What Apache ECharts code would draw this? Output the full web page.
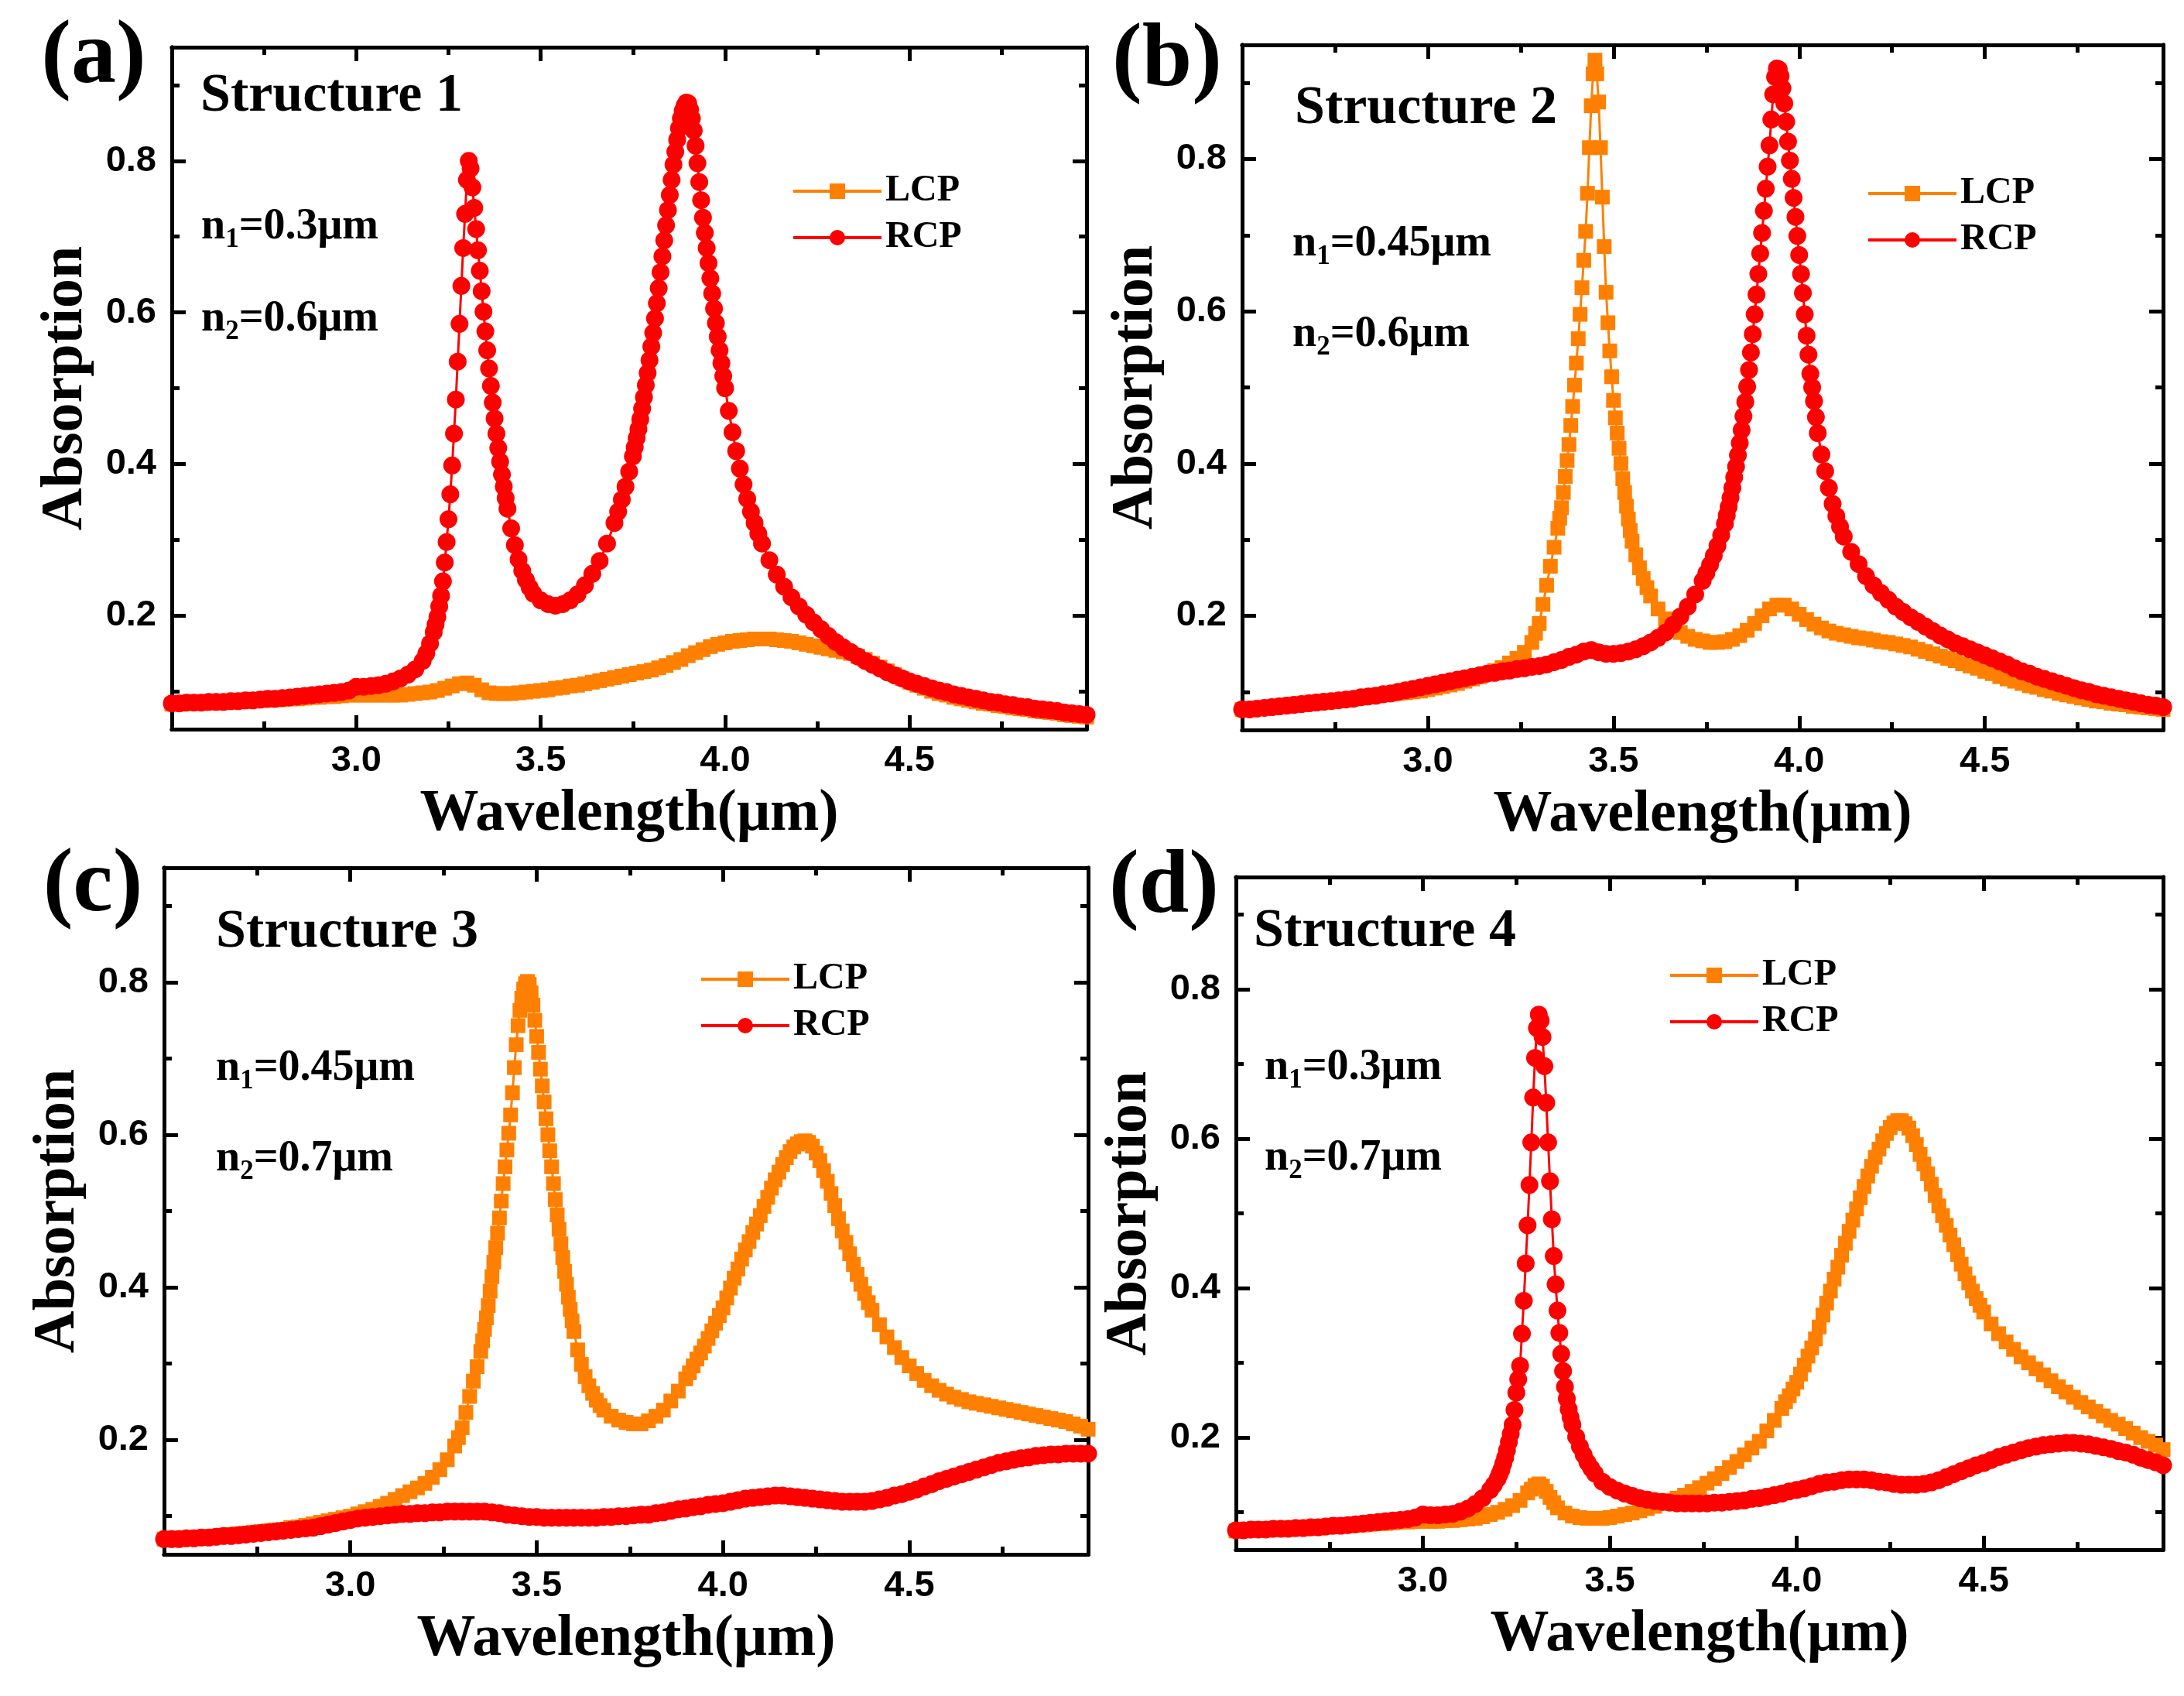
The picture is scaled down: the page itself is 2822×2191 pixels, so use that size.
<!DOCTYPE html>
<html>
<head>
<meta charset="utf-8">
<script src="https://cdn.jsdelivr.net/npm/echarts@6/dist/echarts.min.js"></script>
<style>
html, body { margin: 0; padding: 0; background: #fff; }
#chart { width: 2822px; height: 2191px; }
</style>
</head>
<body>
<div id="chart"></div>
<script>
// absorption spectra, [wavelength (um), absorption]
const lcpA = [[2.50,.083],[2.52,.083],[2.54,.084],[2.56,.084],[2.58,.084],[2.60,.085],[2.62,.085],[2.64,.085],[2.66,.086],[2.68,.086],[2.70,.087],[2.72,.087],[2.74,.088],[2.76,.088],[2.78,.089],[2.80,.089],[2.82,.090],[2.84,.090],[2.86,.091],[2.88,.092],[2.90,.092],[2.92,.093],[2.94,.093],[2.96,.094],[2.98,.095],[3.00,.095],[3.02,.095],[3.04,.095],[3.06,.095],[3.08,.095],[3.10,.095],[3.12,.095],[3.14,.096],[3.16,.097],[3.18,.098],[3.20,.099],[3.22,.101],[3.24,.104],[3.26,.107],[3.28,.110],[3.30,.111],[3.32,.108],[3.34,.102],[3.36,.098],[3.38,.097],[3.40,.097],[3.42,.097],[3.44,.098],[3.46,.099],[3.48,.100],[3.50,.101],[3.52,.102],[3.54,.104],[3.56,.105],[3.58,.107],[3.60,.108],[3.62,.110],[3.64,.112],[3.66,.114],[3.68,.116],[3.70,.118],[3.72,.120],[3.74,.122],[3.76,.124],[3.78,.126],[3.80,.128],[3.82,.131],[3.84,.134],[3.86,.138],[3.88,.142],[3.90,.147],[3.92,.151],[3.94,.155],[3.96,.159],[3.98,.162],[4.00,.164],[4.02,.166],[4.04,.167],[4.06,.168],[4.08,.169],[4.10,.169],[4.12,.169],[4.14,.168],[4.16,.167],[4.18,.166],[4.20,.164],[4.22,.162],[4.24,.160],[4.26,.158],[4.28,.156],[4.30,.154],[4.32,.152],[4.34,.150],[4.36,.146],[4.38,.142],[4.40,.137],[4.42,.132],[4.44,.127],[4.46,.122],[4.48,.117],[4.50,.112],[4.52,.108],[4.54,.104],[4.56,.100],[4.58,.097],[4.60,.095],[4.62,.092],[4.64,.090],[4.66,.088],[4.68,.086],[4.70,.084],[4.72,.083],[4.74,.081],[4.76,.080],[4.78,.078],[4.80,.077],[4.82,.076],[4.84,.074],[4.86,.073],[4.88,.072],[4.90,.071],[4.92,.069],[4.94,.068],[4.96,.067],[4.98,.066]];
const rcpA = [[2.50,.084],[2.52,.084],[2.54,.085],[2.56,.085],[2.58,.085],[2.60,.086],[2.62,.086],[2.64,.086],[2.66,.087],[2.68,.087],[2.70,.088],[2.72,.088],[2.74,.089],[2.76,.090],[2.78,.090],[2.80,.091],[2.82,.092],[2.84,.093],[2.86,.094],[2.88,.095],[2.90,.096],[2.92,.097],[2.94,.098],[2.96,.099],[2.98,.101],[3.00,.106],[3.02,.106],[3.04,.107],[3.06,.108],[3.08,.110],[3.10,.113],[3.12,.117],[3.14,.122],[3.16,.129],[3.18,.140],[3.19,.150],[3.20,.163],[3.21,.178],[3.215,.188],[3.22,.198],[3.225,.212],[3.23,.226],[3.235,.245],[3.24,.270],[3.245,.297],[3.25,.327],[3.255,.360],[3.26,.398],[3.265,.440],[3.27,.485],[3.275,.535],[3.28,.585],[3.285,.635],[3.29,.685],[3.295,.730],[3.30,.775],[3.305,.800],[3.31,.790],[3.315,.765],[3.32,.738],[3.325,.710],[3.33,.682],[3.335,.655],[3.34,.628],[3.345,.601],[3.35,.575],[3.355,.550],[3.36,.526],[3.365,.503],[3.37,.481],[3.375,.460],[3.38,.440],[3.385,.421],[3.39,.403],[3.395,.386],[3.40,.370],[3.405,.355],[3.41,.341],[3.42,.315],[3.43,.293],[3.44,.274],[3.45,.259],[3.46,.247],[3.47,.237],[3.48,.229],[3.50,.220],[3.52,.215],[3.54,.213],[3.56,.215],[3.58,.220],[3.60,.228],[3.62,.240],[3.64,.255],[3.66,.272],[3.68,.295],[3.70,.322],[3.71,.337],[3.72,.353],[3.73,.370],[3.74,.390],[3.75,.410],[3.755,.422],[3.76,.434],[3.765,.446],[3.77,.459],[3.775,.473],[3.78,.488],[3.785,.504],[3.79,.520],[3.795,.537],[3.80,.555],[3.805,.573],[3.81,.592],[3.815,.612],[3.82,.632],[3.825,.653],[3.83,.674],[3.835,.695],[3.84,.715],[3.845,.735],[3.85,.755],[3.855,.775],[3.86,.795],[3.865,.812],[3.87,.828],[3.875,.843],[3.88,.856],[3.885,.866],[3.89,.873],[3.895,.877],[3.90,.876],[3.905,.868],[3.91,.856],[3.915,.840],[3.92,.820],[3.925,.797],[3.93,.772],[3.935,.748],[3.94,.725],[3.945,.705],[3.95,.685],[3.955,.665],[3.96,.645],[3.965,.625],[3.97,.605],[3.975,.586],[3.98,.568],[3.985,.550],[3.99,.533],[3.995,.516],[4.00,.500],[4.01,.470],[4.02,.442],[4.03,.417],[4.04,.394],[4.05,.373],[4.06,.354],[4.07,.337],[4.08,.322],[4.09,.308],[4.10,.295],[4.12,.273],[4.14,.254],[4.16,.238],[4.18,.224],[4.20,.212],[4.22,.201],[4.24,.191],[4.26,.182],[4.28,.173],[4.30,.165],[4.32,.158],[4.34,.152],[4.36,.146],[4.38,.140],[4.40,.135],[4.42,.130],[4.44,.125],[4.46,.121],[4.48,.117],[4.50,.113],[4.52,.110],[4.54,.107],[4.56,.104],[4.58,.101],[4.60,.099],[4.62,.096],[4.64,.094],[4.66,.092],[4.68,.090],[4.70,.088],[4.72,.086],[4.74,.085],[4.76,.083],[4.78,.082],[4.80,.080],[4.82,.079],[4.84,.077],[4.86,.076],[4.88,.075],[4.90,.074],[4.92,.072],[4.94,.071],[4.96,.070],[4.98,.069]];

const lcpB = [[2.50,.077],[2.52,.078],[2.54,.078],[2.56,.079],[2.58,.080],[2.60,.081],[2.62,.082],[2.64,.083],[2.66,.084],[2.68,.085],[2.70,.086],[2.72,.087],[2.74,.088],[2.76,.089],[2.78,.090],[2.80,.091],[2.82,.092],[2.84,.094],[2.86,.095],[2.88,.096],[2.90,.097],[2.92,.098],[2.94,.099],[2.96,.100],[2.98,.101],[3.00,.103],[3.02,.105],[3.04,.107],[3.06,.109],[3.08,.111],[3.10,.114],[3.12,.117],[3.14,.120],[3.16,.124],[3.18,.128],[3.20,.132],[3.22,.138],[3.24,.144],[3.26,.152],[3.28,.165],[3.29,.177],[3.30,.190],[3.31,.215],[3.32,.240],[3.33,.265],[3.34,.290],[3.35,.315],[3.355,.328],[3.36,.342],[3.365,.362],[3.37,.383],[3.375,.404],[3.38,.425],[3.385,.450],[3.39,.475],[3.395,.503],[3.40,.532],[3.405,.564],[3.41,.596],[3.415,.631],[3.42,.667],[3.425,.705],[3.43,.755],[3.435,.815],[3.44,.870],[3.445,.912],[3.45,.930],[3.455,.912],[3.46,.875],[3.465,.815],[3.47,.750],[3.475,.685],[3.48,.625],[3.485,.585],[3.49,.548],[3.495,.514],[3.50,.483],[3.505,.460],[3.51,.440],[3.515,.420],[3.52,.400],[3.525,.380],[3.53,.362],[3.535,.344],[3.54,.327],[3.545,.312],[3.55,.298],[3.56,.280],[3.57,.263],[3.58,.249],[3.59,.237],[3.60,.226],[3.62,.209],[3.64,.196],[3.66,.186],[3.68,.178],[3.70,.173],[3.72,.169],[3.74,.167],[3.76,.165],[3.78,.165],[3.80,.166],[3.82,.169],[3.84,.174],[3.86,.181],[3.88,.190],[3.90,.200],[3.92,.209],[3.94,.214],[3.96,.214],[3.98,.209],[4.00,.202],[4.02,.195],[4.04,.189],[4.06,.184],[4.08,.180],[4.10,.177],[4.12,.175],[4.14,.173],[4.16,.171],[4.18,.170],[4.20,.168],[4.22,.166],[4.24,.165],[4.26,.163],[4.28,.161],[4.30,.159],[4.32,.156],[4.34,.153],[4.36,.150],[4.38,.147],[4.40,.144],[4.42,.141],[4.44,.137],[4.46,.134],[4.48,.131],[4.50,.127],[4.52,.124],[4.54,.120],[4.56,.117],[4.58,.114],[4.60,.111],[4.62,.108],[4.64,.106],[4.66,.103],[4.68,.101],[4.70,.098],[4.72,.096],[4.74,.094],[4.76,.092],[4.78,.090],[4.80,.088],[4.82,.087],[4.84,.085],[4.86,.084],[4.88,.083],[4.90,.081],[4.92,.080],[4.94,.079],[4.96,.078],[4.98,.077]];
const rcpB = [[2.50,.077],[2.52,.077],[2.54,.078],[2.56,.079],[2.58,.080],[2.60,.081],[2.62,.082],[2.64,.083],[2.66,.084],[2.68,.085],[2.70,.086],[2.72,.087],[2.74,.088],[2.76,.089],[2.78,.090],[2.80,.091],[2.82,.093],[2.84,.094],[2.86,.095],[2.88,.097],[2.90,.098],[2.92,.100],[2.94,.102],[2.96,.104],[2.98,.106],[3.00,.108],[3.02,.110],[3.04,.112],[3.06,.114],[3.08,.116],[3.10,.118],[3.12,.120],[3.14,.122],[3.16,.124],[3.18,.125],[3.20,.127],[3.22,.128],[3.24,.130],[3.26,.131],[3.28,.133],[3.30,.134],[3.32,.136],[3.34,.139],[3.36,.142],[3.38,.146],[3.40,.149],[3.42,.153],[3.44,.155],[3.46,.152],[3.48,.150],[3.50,.150],[3.52,.151],[3.54,.153],[3.56,.156],[3.58,.160],[3.60,.165],[3.62,.171],[3.64,.178],[3.66,.188],[3.68,.199],[3.70,.212],[3.72,.228],[3.74,.246],[3.75,.256],[3.76,.267],[3.77,.279],[3.78,.292],[3.79,.306],[3.80,.321],[3.805,.332],[3.81,.343],[3.815,.355],[3.82,.368],[3.825,.382],[3.83,.396],[3.835,.411],[3.84,.427],[3.845,.444],[3.85,.462],[3.855,.481],[3.86,.501],[3.865,.523],[3.87,.546],[3.875,.570],[3.88,.596],[3.885,.622],[3.89,.649],[3.895,.676],[3.90,.703],[3.905,.732],[3.91,.761],[3.915,.790],[3.92,.818],[3.925,.852],[3.93,.885],[3.935,.908],[3.94,.919],[3.945,.918],[3.95,.909],[3.955,.893],[3.96,.873],[3.965,.849],[3.97,.823],[3.975,.798],[3.98,.774],[3.985,.749],[3.99,.724],[3.995,.699],[4.00,.674],[4.005,.649],[4.01,.624],[4.015,.596],[4.02,.568],[4.025,.543],[4.03,.518],[4.035,.500],[4.04,.482],[4.045,.461],[4.05,.440],[4.06,.412],[4.07,.390],[4.08,.368],[4.09,.347],[4.10,.331],[4.11,.317],[4.12,.304],[4.14,.284],[4.16,.268],[4.18,.252],[4.20,.240],[4.22,.230],[4.24,.221],[4.26,.212],[4.28,.205],[4.30,.198],[4.32,.192],[4.34,.186],[4.36,.180],[4.38,.174],[4.40,.169],[4.42,.164],[4.44,.160],[4.46,.156],[4.48,.152],[4.50,.148],[4.52,.144],[4.54,.140],[4.56,.136],[4.58,.131],[4.60,.127],[4.62,.124],[4.64,.120],[4.66,.117],[4.68,.114],[4.70,.111],[4.72,.108],[4.74,.105],[4.76,.102],[4.78,.100],[4.80,.097],[4.82,.095],[4.84,.093],[4.86,.091],[4.88,.089],[4.90,.087],[4.92,.085],[4.94,.083],[4.96,.082],[4.98,.080]];

const lcpC = [[2.50,.070],[2.52,.070],[2.54,.071],[2.56,.071],[2.58,.072],[2.60,.072],[2.62,.073],[2.64,.074],[2.66,.075],[2.68,.076],[2.70,.077],[2.72,.078],[2.74,.079],[2.76,.080],[2.78,.081],[2.80,.082],[2.82,.083],[2.84,.085],[2.86,.086],[2.88,.088],[2.90,.090],[2.92,.092],[2.94,.094],[2.96,.096],[2.98,.098],[3.00,.100],[3.02,.103],[3.04,.106],[3.06,.109],[3.08,.113],[3.10,.117],[3.12,.122],[3.14,.127],[3.16,.132],[3.18,.137],[3.20,.143],[3.22,.151],[3.24,.161],[3.26,.174],[3.28,.192],[3.29,.203],[3.30,.216],[3.31,.236],[3.32,.257],[3.33,.277],[3.34,.296],[3.35,.316],[3.355,.330],[3.36,.345],[3.365,.360],[3.37,.376],[3.375,.395],[3.38,.414],[3.385,.433],[3.39,.452],[3.395,.471],[3.40,.491],[3.405,.513],[3.41,.536],[3.415,.558],[3.42,.580],[3.425,.602],[3.43,.626],[3.435,.655],[3.44,.688],[3.445,.718],[3.45,.743],[3.455,.763],[3.46,.779],[3.465,.791],[3.47,.798],[3.475,.801],[3.48,.797],[3.485,.786],[3.49,.770],[3.495,.750],[3.50,.729],[3.505,.708],[3.51,.686],[3.515,.664],[3.52,.643],[3.525,.621],[3.53,.600],[3.535,.579],[3.54,.558],[3.545,.536],[3.55,.515],[3.555,.495],[3.56,.476],[3.565,.457],[3.57,.439],[3.575,.421],[3.58,.404],[3.585,.387],[3.59,.371],[3.595,.356],[3.60,.342],[3.61,.318],[3.62,.299],[3.63,.283],[3.64,.271],[3.65,.261],[3.66,.252],[3.67,.245],[3.68,.239],[3.70,.231],[3.72,.226],[3.74,.223],[3.76,.221],[3.78,.221],[3.80,.225],[3.82,.231],[3.84,.239],[3.86,.251],[3.88,.264],[3.90,.280],[3.91,.288],[3.92,.297],[3.93,.306],[3.94,.314],[3.95,.323],[3.96,.333],[3.97,.343],[3.98,.353],[3.99,.363],[4.00,.373],[4.01,.386],[4.02,.399],[4.03,.412],[4.04,.424],[4.05,.437],[4.06,.449],[4.07,.460],[4.08,.472],[4.09,.483],[4.10,.494],[4.11,.506],[4.12,.518],[4.13,.530],[4.14,.541],[4.15,.551],[4.16,.561],[4.17,.570],[4.18,.578],[4.19,.584],[4.20,.588],[4.21,.591],[4.22,.592],[4.23,.590],[4.24,.585],[4.25,.576],[4.26,.566],[4.27,.553],[4.28,.539],[4.29,.523],[4.30,.507],[4.31,.490],[4.32,.474],[4.33,.459],[4.34,.444],[4.35,.430],[4.36,.417],[4.37,.404],[4.38,.392],[4.39,.380],[4.40,.370],[4.42,.351],[4.44,.335],[4.46,.321],[4.48,.308],[4.50,.297],[4.52,.287],[4.54,.278],[4.56,.271],[4.58,.265],[4.60,.260],[4.62,.256],[4.64,.253],[4.66,.250],[4.68,.248],[4.70,.246],[4.72,.244],[4.74,.242],[4.76,.240],[4.78,.238],[4.80,.236],[4.82,.234],[4.84,.232],[4.86,.230],[4.88,.228],[4.90,.226],[4.92,.224],[4.94,.221],[4.96,.218],[4.98,.214]];
const rcpC = [[2.50,.070],[2.52,.070],[2.54,.070],[2.56,.071],[2.58,.071],[2.60,.072],[2.62,.072],[2.64,.073],[2.66,.074],[2.68,.074],[2.70,.075],[2.72,.076],[2.74,.077],[2.76,.078],[2.78,.079],[2.80,.080],[2.82,.081],[2.84,.082],[2.86,.083],[2.88,.084],[2.90,.085],[2.92,.087],[2.94,.089],[2.96,.091],[2.98,.093],[3.00,.095],[3.02,.097],[3.04,.098],[3.06,.099],[3.08,.100],[3.10,.101],[3.12,.102],[3.14,.103],[3.16,.103],[3.18,.104],[3.20,.104],[3.22,.105],[3.24,.105],[3.26,.106],[3.28,.106],[3.30,.106],[3.32,.106],[3.34,.106],[3.36,.106],[3.38,.105],[3.40,.104],[3.42,.102],[3.44,.101],[3.46,.100],[3.48,.099],[3.50,.099],[3.52,.098],[3.54,.098],[3.56,.098],[3.58,.098],[3.60,.098],[3.62,.098],[3.64,.098],[3.66,.098],[3.68,.099],[3.70,.099],[3.72,.100],[3.74,.100],[3.76,.101],[3.78,.102],[3.80,.102],[3.82,.104],[3.84,.105],[3.86,.107],[3.88,.109],[3.90,.110],[3.92,.112],[3.94,.113],[3.96,.115],[3.98,.116],[4.00,.117],[4.02,.119],[4.04,.121],[4.06,.123],[4.08,.124],[4.10,.125],[4.12,.126],[4.14,.127],[4.16,.127],[4.18,.126],[4.20,.125],[4.22,.124],[4.24,.123],[4.26,.122],[4.28,.121],[4.30,.120],[4.32,.119],[4.34,.119],[4.36,.119],[4.38,.119],[4.40,.120],[4.42,.122],[4.44,.124],[4.46,.127],[4.48,.129],[4.50,.132],[4.52,.135],[4.54,.139],[4.56,.142],[4.58,.146],[4.60,.149],[4.62,.152],[4.64,.155],[4.66,.158],[4.68,.161],[4.70,.164],[4.72,.167],[4.74,.170],[4.76,.172],[4.78,.174],[4.80,.176],[4.82,.177],[4.84,.179],[4.86,.180],[4.88,.181],[4.90,.181],[4.92,.182],[4.94,.182],[4.96,.182],[4.98,.182]];

const lcpD = [[2.50,.075],[2.52,.075],[2.54,.076],[2.56,.076],[2.58,.076],[2.60,.077],[2.62,.077],[2.64,.077],[2.66,.078],[2.68,.078],[2.70,.079],[2.72,.079],[2.74,.080],[2.76,.081],[2.78,.081],[2.80,.082],[2.82,.083],[2.84,.083],[2.86,.084],[2.88,.085],[2.90,.085],[2.92,.086],[2.94,.087],[2.96,.087],[2.98,.088],[3.00,.088],[3.02,.088],[3.04,.088],[3.06,.089],[3.08,.089],[3.10,.090],[3.12,.091],[3.14,.092],[3.16,.094],[3.18,.097],[3.20,.100],[3.22,.104],[3.24,.109],[3.26,.116],[3.28,.126],[3.29,.131],[3.30,.136],[3.31,.138],[3.32,.135],[3.33,.128],[3.34,.120],[3.35,.113],[3.36,.106],[3.38,.099],[3.40,.095],[3.42,.093],[3.44,.092],[3.46,.092],[3.48,.092],[3.50,.093],[3.52,.095],[3.54,.097],[3.56,.099],[3.58,.102],[3.60,.105],[3.62,.108],[3.64,.112],[3.66,.116],[3.68,.119],[3.70,.123],[3.72,.128],[3.74,.133],[3.76,.139],[3.78,.145],[3.80,.152],[3.82,.160],[3.84,.168],[3.86,.177],[3.88,.186],[3.90,.195],[3.92,.209],[3.94,.223],[3.96,.239],[3.97,.248],[3.98,.256],[3.99,.265],[4.00,.274],[4.01,.285],[4.02,.297],[4.03,.309],[4.04,.320],[4.05,.332],[4.06,.348],[4.07,.364],[4.08,.380],[4.09,.396],[4.10,.412],[4.11,.428],[4.12,.444],[4.13,.460],[4.14,.476],[4.15,.491],[4.16,.506],[4.17,.521],[4.18,.536],[4.19,.550],[4.20,.563],[4.21,.575],[4.22,.586],[4.23,.597],[4.24,.607],[4.25,.615],[4.26,.621],[4.27,.624],[4.28,.624],[4.29,.620],[4.30,.614],[4.31,.604],[4.32,.592],[4.33,.579],[4.34,.566],[4.35,.553],[4.36,.539],[4.37,.524],[4.38,.510],[4.39,.497],[4.40,.484],[4.41,.471],[4.42,.458],[4.43,.445],[4.44,.432],[4.45,.419],[4.46,.407],[4.47,.396],[4.48,.386],[4.49,.377],[4.50,.368],[4.52,.352],[4.54,.339],[4.56,.328],[4.58,.318],[4.60,.308],[4.62,.300],[4.64,.292],[4.66,.284],[4.68,.276],[4.70,.268],[4.72,.261],[4.74,.254],[4.76,.247],[4.78,.241],[4.80,.235],[4.82,.229],[4.84,.223],[4.86,.218],[4.88,.212],[4.90,.206],[4.92,.200],[4.94,.195],[4.96,.190],[4.98,.184]];
const rcpD = [[2.50,.076],[2.52,.076],[2.54,.077],[2.56,.077],[2.58,.077],[2.60,.078],[2.62,.078],[2.64,.078],[2.66,.079],[2.68,.079],[2.70,.080],[2.72,.080],[2.74,.081],[2.76,.082],[2.78,.082],[2.80,.083],[2.82,.084],[2.84,.085],[2.86,.086],[2.88,.087],[2.90,.088],[2.92,.089],[2.94,.090],[2.96,.091],[2.98,.093],[3.00,.097],[3.02,.096],[3.04,.096],[3.06,.097],[3.08,.098],[3.10,.101],[3.12,.105],[3.14,.111],[3.16,.119],[3.18,.130],[3.19,.137],[3.20,.145],[3.205,.151],[3.21,.157],[3.215,.165],[3.22,.173],[3.225,.183],[3.23,.194],[3.235,.205],[3.24,.217],[3.245,.237],[3.25,.260],[3.255,.278],[3.26,.296],[3.265,.339],[3.27,.383],[3.275,.433],[3.28,.484],[3.285,.538],[3.29,.595],[3.295,.655],[3.30,.708],[3.305,.748],[3.31,.766],[3.315,.758],[3.32,.736],[3.325,.697],[3.33,.648],[3.335,.595],[3.34,.543],[3.345,.492],[3.35,.443],[3.355,.405],[3.36,.370],[3.365,.340],[3.37,.312],[3.375,.289],[3.38,.268],[3.385,.252],[3.39,.238],[3.395,.227],[3.40,.217],[3.41,.201],[3.42,.188],[3.43,.177],[3.44,.167],[3.45,.159],[3.46,.152],[3.48,.141],[3.50,.134],[3.52,.129],[3.54,.125],[3.56,.122],[3.58,.119],[3.60,.117],[3.62,.115],[3.64,.114],[3.66,.113],[3.68,.112],[3.70,.112],[3.72,.112],[3.74,.112],[3.76,.112],[3.78,.113],[3.80,.113],[3.82,.114],[3.84,.115],[3.86,.116],[3.88,.118],[3.90,.119],[3.92,.121],[3.94,.123],[3.96,.125],[3.98,.128],[4.00,.130],[4.02,.132],[4.04,.135],[4.06,.138],[4.08,.140],[4.10,.141],[4.12,.143],[4.14,.144],[4.16,.144],[4.18,.144],[4.20,.143],[4.22,.141],[4.24,.140],[4.26,.138],[4.28,.137],[4.30,.137],[4.32,.137],[4.34,.138],[4.36,.140],[4.38,.143],[4.40,.147],[4.42,.151],[4.44,.155],[4.46,.159],[4.48,.163],[4.50,.166],[4.52,.170],[4.54,.174],[4.56,.177],[4.58,.180],[4.60,.183],[4.62,.186],[4.64,.188],[4.66,.190],[4.68,.191],[4.70,.192],[4.72,.193],[4.74,.193],[4.76,.192],[4.78,.191],[4.80,.189],[4.82,.187],[4.84,.185],[4.86,.182],[4.88,.180],[4.90,.177],[4.92,.173],[4.94,.170],[4.96,.167],[4.98,.163]];

// ticks
const majorX = [3.0, 3.5, 4.0, 4.5];
const minorX = [2.75, 3.25, 3.75, 4.25, 4.75];
const majorY = [0.2, 0.4, 0.6, 0.8];
const minorY = [0.1, 0.3, 0.5, 0.7, 0.9];

// panel texts
const tags = ['(a)', '(b)', '(c)', '(d)'];
const structures = ['Structure 1', 'Structure 2', 'Structure 3', 'Structure 4'];
const n1Values = ['0.3', '0.45', '0.45', '0.3'];
const n2Values = ['0.6', '0.6', '0.7', '0.7'];

const SERIF = '"Liberation Serif", "Times New Roman", serif';
const SANS = '"Liberation Sans", Arial, sans-serif';
const ORANGE = '#FF8000';
const RED = '#FF0000';

const panels = [
    { grid: { left: 222, top: 61, width: 1182, height: 881 }, lcp: lcpA, rcp: rcpA, tag: [121, 76], title: [259, 125], nText: [260, 261, 380], legend: [1023, 223] },
    { grid: { left: 1605, top: 58, width: 1190, height: 885 }, lcp: lcpB, rcp: rcpB, tag: [1508, 80], title: [1673, 141], nText: [1670, 283, 400], legend: [2412, 226] },
    { grid: { left: 212, top: 1121, width: 1194, height: 887 }, lcp: lcpC, rcp: rcpC, tag: [120, 1146], title: [279, 1205], nText: [279, 1348, 1465], legend: [904, 1241] },
    { grid: { left: 1597, top: 1133, width: 1198, height: 869 }, lcp: lcpD, rcp: rcpD, tag: [1504, 1148], title: [1620, 1204], nText: [1634, 1347, 1464], legend: [2156, 1236] }
];

const axisLine = { show: true, onZero: false, lineStyle: { color: '#000', width: 5 } };
const tick = (vals, len) => ({ show: true, inside: true, length: len, customValues: vals, lineStyle: { color: '#000', width: 5 } });
const tickLabel = (vals) => ({
    show: true, customValues: vals, margin: 18,
    formatter: v => Number(v).toFixed(1),
    color: '#000', fontFamily: SANS, fontWeight: 'bold', fontSize: 47
});
const axisName = { color: '#000', fontFamily: SERIF, fontWeight: 'bold', fontSize: 76 };

const xAxis = [];
const yAxis = [];
panels.forEach((p, gi) => {
    const bx = { type: 'value', gridIndex: gi, min: 2.5, max: 4.98, axisLine, splitLine: { show: false }, axisLabel: { show: false } };
    xAxis.push(
        { ...bx, position: 'bottom', axisTick: tick(majorX, 18), axisLabel: tickLabel(majorX),
          name: 'Wavelength(μm)', nameLocation: 'middle', nameGap: 72, nameTextStyle: axisName },
        { ...bx, position: 'bottom', axisTick: tick(minorX, 10) },
        { ...bx, position: 'top', axisTick: tick(majorX, 18) },
        { ...bx, position: 'top', axisTick: tick(minorX, 10) }
    );
    const by = { type: 'value', gridIndex: gi, min: 0.05, max: 0.95, axisLine, splitLine: { show: false }, axisLabel: { show: false } };
    yAxis.push(
        { ...by, position: 'left', axisTick: tick(majorY, 18), axisLabel: { ...tickLabel(majorY), margin: 20 },
          name: 'Absorption', nameLocation: 'middle', nameGap: 99, nameTextStyle: axisName },
        { ...by, position: 'left', axisTick: tick(minorY, 10) },
        { ...by, position: 'right', axisTick: tick(majorY, 18) },
        { ...by, position: 'right', axisTick: tick(minorY, 10) }
    );
});

const series = [];
panels.forEach((p, gi) => {
    const common = { type: 'line', xAxisIndex: gi * 4, yAxisIndex: gi * 4, showSymbol: true, showAllSymbol: true, clip: true, emphasis: { disabled: true } };
    series.push(
        { ...common, name: 'LCP', data: p.lcp, symbol: 'rect', symbolSize: 19, itemStyle: { color: ORANGE }, lineStyle: { color: ORANGE, width: 3 } },
        { ...common, name: 'RCP', data: p.rcp, symbol: 'circle', symbolSize: 23, itemStyle: { color: RED }, lineStyle: { color: RED, width: 3 } }
    );
});

const legend = panels.map(p => ({
    data: ['LCP', 'RCP'], orient: 'vertical', left: p.legend[0], top: p.legend[1], padding: 0,
    itemWidth: 114, itemHeight: 25, itemGap: 12,
    lineStyle: { width: 4 },
    textStyle: { color: '#000', fontFamily: SERIF, fontWeight: 'bold', fontSize: 48 }
}));

const graphic = [];
panels.forEach((p, gi) => {
    graphic.push({
        type: 'text', x: p.tag[0], y: p.tag[1],
        style: { text: tags[gi], fill: '#000', fontFamily: SERIF, fontWeight: 'bold', fontSize: 116, align: 'center', verticalAlign: 'middle', textAlign: 'center', textVerticalAlign: 'middle' }
    });
    graphic.push({
        type: 'text', x: p.title[0], y: p.title[1],
        style: { text: structures[gi], fill: '#000', fontFamily: SERIF, fontWeight: 'bold', fontSize: 70, align: 'left', verticalAlign: 'middle', textAlign: 'left', textVerticalAlign: 'middle' }
    });
    [[1, n1Values[gi]], [2, n2Values[gi]]].forEach(([k, v], j) => {
        graphic.push({
            type: 'text', x: p.nText[0], y: p.nText[1 + j],
            style: {
                text: '{m|n}{s|' + k + '}{m|=' + v + 'μm}',
                align: 'left', verticalAlign: 'top', textAlign: 'left', textVerticalAlign: 'top',
                rich: {
                    m: { fill: '#000', fontFamily: SERIF, fontWeight: 'bold', fontSize: 56, lineHeight: 66 },
                    s: { fill: '#000', fontFamily: SERIF, fontWeight: 'bold', fontSize: 35, lineHeight: 12, verticalAlign: 'bottom' }
                }
            }
        });
    });
});

const chart = echarts.init(document.getElementById('chart'));
chart.setOption({
    animation: false,
    backgroundColor: '#fff',
    grid: panels.map(p => ({ ...p.grid, containLabel: false })),
    xAxis,
    yAxis,
    legend,
    series,
    graphic
});
</script>
</body>
</html>
